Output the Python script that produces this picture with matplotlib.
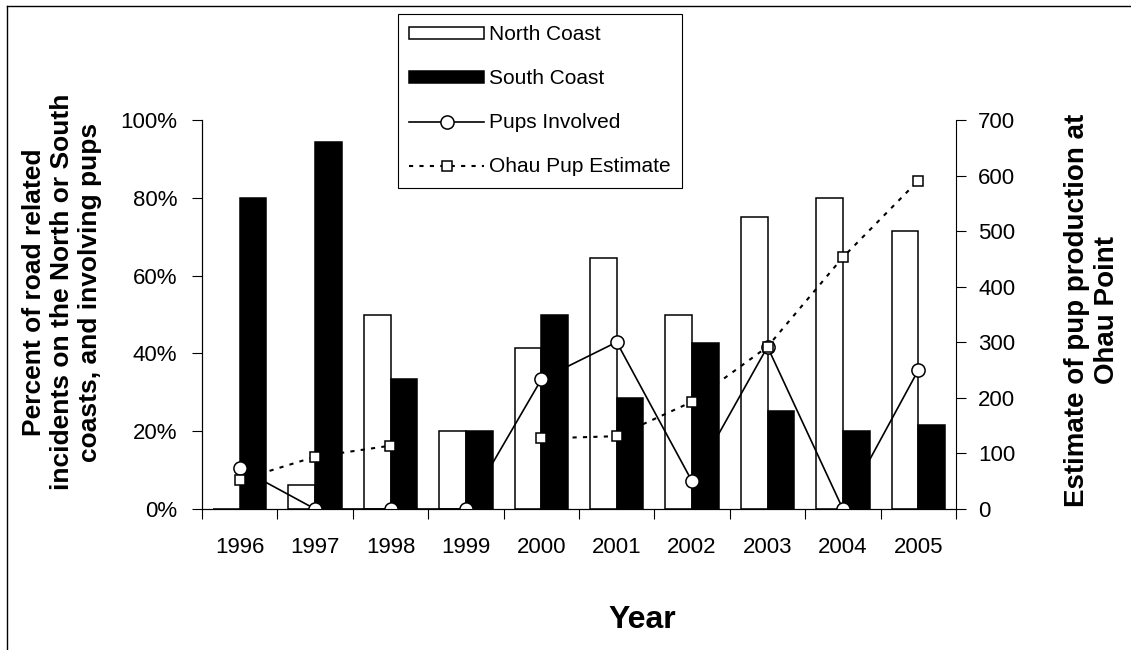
import numpy as np
import matplotlib.pyplot as plt
from matplotlib.lines import Line2D
from matplotlib.ticker import FuncFormatter

plt.rcParams['font.family'] = ['Liberation Sans', 'DejaVu Sans']

years = ['1996', '1997', '1998', '1999', '2000', '2001', '2002', '2003', '2004', '2005']
north_coast = [0, 6.2, 50, 20, 41.5, 64.4, 50, 75, 80, 71.5]
south_coast = [80, 94.3, 33.3, 20, 50, 28.6, 42.8, 25.2, 20, 21.5]
pups_involved = [10.5, 0, 0, 0, 33.3, 42.9, 7.1, 41.7, 0, 35.7]
ohau_estimate = [52, 94, 114, np.nan, 127, 131, 193, 292, 453, 591]

fig = plt.figure(figsize=(11.31, 6.5), dpi=100)
ax = fig.add_axes([202 / 1131, 1 - 509 / 650, 754 / 1131, 389 / 650])

x = np.arange(len(years))
w = 0.355
b1 = ax.bar(x - w / 2, north_coast, w, color='white', edgecolor='black', linewidth=1.1,
            label='North Coast', zorder=2)
b2 = ax.bar(x + w / 2, south_coast, w, color='black', edgecolor='black', linewidth=1.1,
            label='South Coast', zorder=2)
l1, = ax.plot(x, pups_involved, color='black', linewidth=1.2, marker='o', markersize=9.5,
              markerfacecolor='white', markeredgecolor='black', markeredgewidth=1.1,
              label='Pups Involved', zorder=3)

ax.set_xlim(-0.5, len(years) - 0.5)
ax.set_ylim(0, 100)
ax.set_yticks(np.arange(0, 101, 20))
ax.yaxis.set_major_formatter(FuncFormatter(lambda v, p: f'{v:.0f}%'))
ax.set_xticks(x)
ax.set_xticklabels(years)
ax.set_xticks(np.arange(-0.5, len(years), 1), minor=True)
ax.tick_params(axis='x', which='major', length=0, pad=20, labelsize=16)
ax.tick_params(axis='x', which='minor', length=7, direction='out', width=0.8)
ax.tick_params(axis='y', length=7, width=0.8, pad=11, labelsize=16)
ax.spines['top'].set_visible(False)
ax.spines['right'].set_visible(False)

# second axis for the pup production estimate
ax2 = ax.twinx()
l2, = ax2.plot(x, ohau_estimate, color='black', linewidth=1.5, linestyle=(0, (2, 3)),
               marker='s', markersize=7, markerfacecolor='white', markeredgecolor='black',
               markeredgewidth=1.1, label='Ohau Pup Estimate', zorder=4)
ax2.set_ylim(0, 700)
ax2.set_yticks(np.arange(0, 701, 100))
ax2.tick_params(axis='y', length=7, width=0.8, pad=9, labelsize=16)
ax2.spines['top'].set_visible(False)

# legend up top, outside the plot area
leg = fig.legend([b1, b2, l1, l2],
                 ['North Coast', 'South Coast', 'Pups Involved', 'Ohau Pup Estimate'],
                 loc='upper left', bbox_to_anchor=(398 / 1131, 1 - 14 / 650), borderaxespad=0,
                 fontsize=15, fancybox=False, framealpha=1, edgecolor='black',
                 handlelength=3.6, handleheight=0.5, labelspacing=1.2,
                 handletextpad=0.2, borderpad=0.55, numpoints=1)
leg.get_frame().set_linewidth(0.8)

fig.text(62 / 1131, 1 - 292 / 650,
         'Percent of road related\nincidents on the North or South\ncoasts, and involving pups',
         rotation=90, ha='center', va='center', multialignment='center',
         fontsize=19, fontweight='bold')
fig.text(1092 / 1131, 1 - 310 / 650, 'Estimate of pup production at\nOhau Point',
         rotation=90, ha='center', va='center', multialignment='center',
         fontsize=20, fontweight='bold')
fig.text(642 / 1131, 1 - 620 / 650, 'Year', ha='center', va='center',
         fontsize=23, fontweight='bold')

# outer frame lines (top and left)
fig.add_artist(Line2D([7 / 1131, 1], [1 - 6 / 650, 1 - 6 / 650], color='black', linewidth=1))
fig.add_artist(Line2D([7 / 1131, 7 / 1131], [0, 1 - 6 / 650], color='black', linewidth=1))

fig.savefig('out.png', dpi=100)
